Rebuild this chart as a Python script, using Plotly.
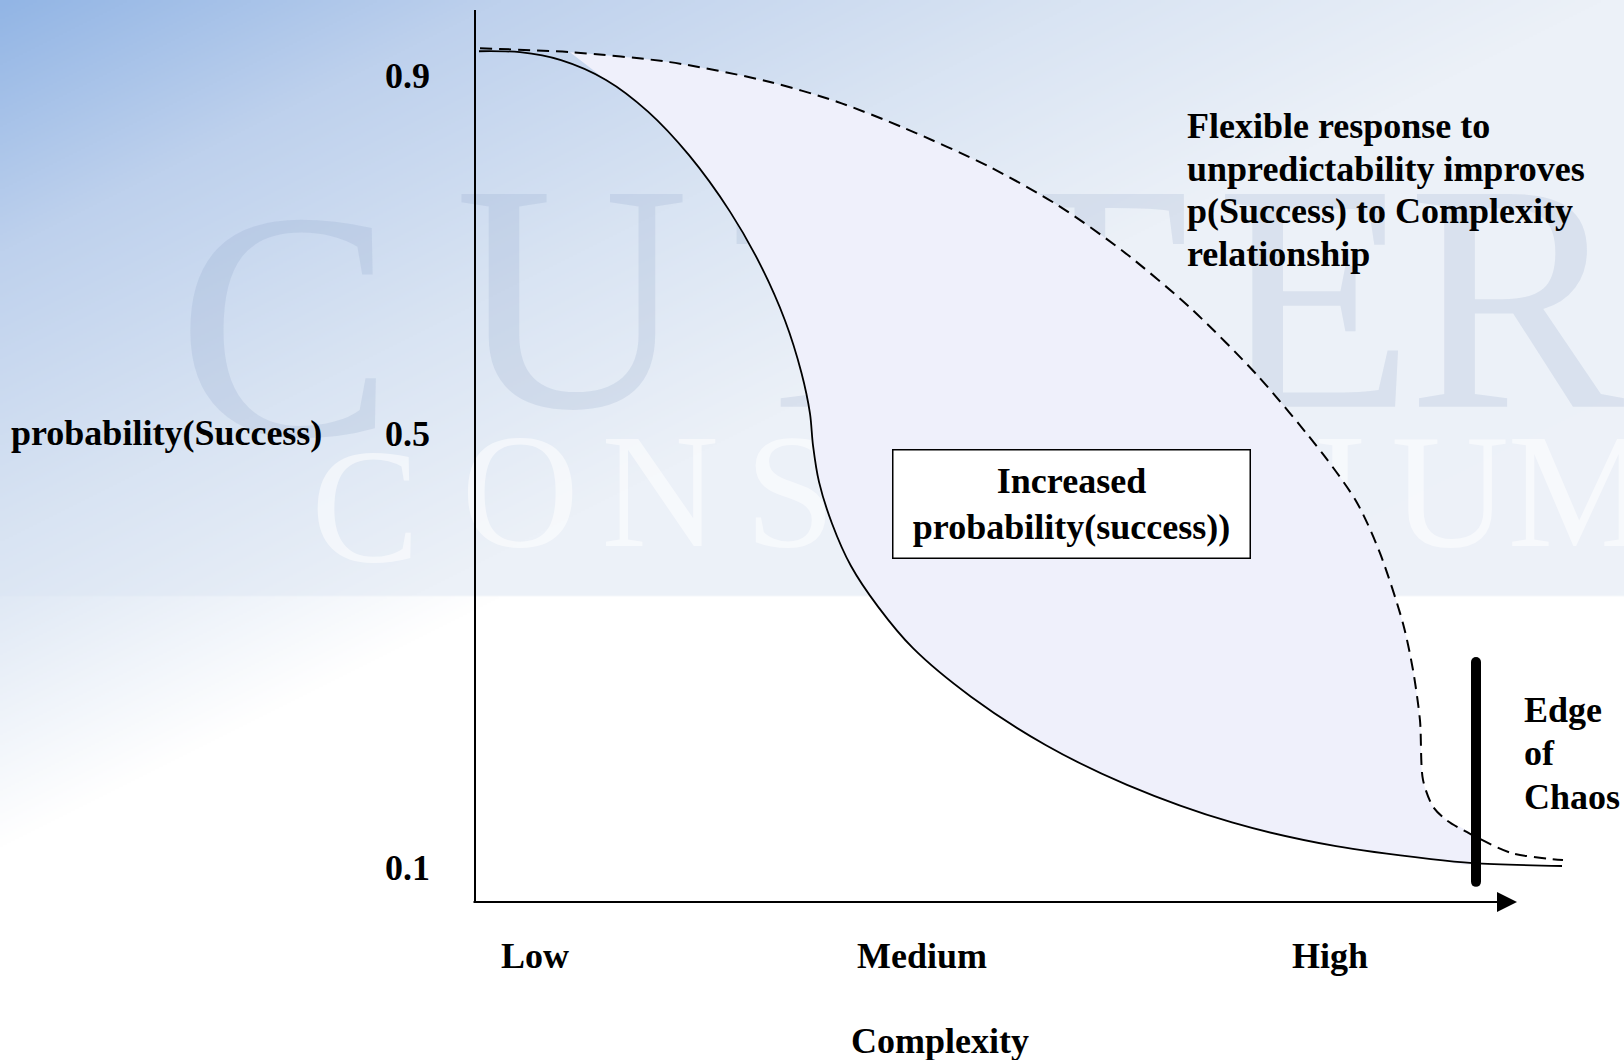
import base64, struct, zlib
import numpy as np
import plotly.graph_objects as go

# ---------------- data ----------------
complexity_rigid = [0.03, 0.44, 0.85, 1.30, 1.72, 2.13, 2.54, 2.84, 3.09, 3.255, 3.34, 3.37, 3.43,
                    3.56, 3.75, 4.02, 4.37, 4.95, 5.70, 6.51, 7.56, 8.60, 9.55, 9.97, 10.86]
p_rigid = [0.924, 0.923, 0.915, 0.895, 0.863, 0.819, 0.762, 0.709, 0.652, 0.599, 0.558, 0.526, 0.489,
           0.447, 0.404, 0.363, 0.321, 0.272, 0.223, 0.183, 0.145, 0.121, 0.108, 0.104, 0.101]

complexity_flexible = [0.04, 0.94, 1.94, 2.94, 3.61, 4.27, 5.14, 5.81, 6.47, 7.14, 7.81, 8.47,
                       8.81, 9.04, 9.27, 9.37, 9.44, 9.47, 9.57, 9.71, 9.95, 10.36, 10.87]
p_flexible = [0.927, 0.923, 0.913, 0.893, 0.873, 0.847, 0.807, 0.769, 0.722, 0.665, 0.597, 0.517,
              0.468, 0.417, 0.346, 0.299, 0.248, 0.188, 0.161, 0.147, 0.133, 0.114, 0.107]

x_tick_vals = [0.59, 4.46, 8.54]
x_tick_text = ["Low", "Medium", "High"]
y_tick_vals = [0.1, 0.538, 0.9]
y_tick_text = ["0.1", "0.5", "0.9"]

edge_of_chaos_x = [10.0, 10.0]
edge_of_chaos_y = [0.307, 0.085]

# background watermark (logo) letters
watermark_big = ["U", "T", "T", "E", "R"]
watermark_big_x = [0.96, 3.54, 6.14, 8.39, 10.40]
watermark_big_y = [0.647] * 5
watermark_small = list("ONSORTIUM")
watermark_small_x = [0.44, 1.84, 3.14, 4.64, 6.14, 7.54, 8.64, 9.74, 11.04]
watermark_small_y = [0.465] * 9

# ---------------- geometry helpers ----------------
W, H = 1624, 1060
ML, MR, MT, MB = 476, 0, 10, 158
PW, PH = W - ML - MR, H - MT - MB


def py2y(py):
    return 0.1 + (867 - py) / 990.0


def px2x(px):
    return (px - 476) / 100.0


x_range = [0, px2x(W)]
y_range = [py2y(902), py2y(10)]

# ---------------- background gradient image ----------------
def make_png(arr):
    h, w, _ = arr.shape
    raw = b"".join(b"\x00" + arr[i].tobytes() for i in range(h))

    def chunk(tag, data):
        return (struct.pack(">I", len(data)) + tag + data +
                struct.pack(">I", zlib.crc32(tag + data) & 0xFFFFFFFF))
    return (b"\x89PNG\r\n\x1a\n" +
            chunk(b"IHDR", struct.pack(">IIBBBBB", w, h, 8, 2, 0, 0, 0)) +
            chunk(b"IDAT", zlib.compress(raw, 9)) + chunk(b"IEND", b""))


S = 2
gw, gh = W // S, H // S
gx, gy = np.meshgrid(np.arange(gw) * S, np.arange(gh) * S)
d = gy + 0.5 * gx
stops_d = [0, 250, 540, 800, 2000]
upper = [np.interp(d, stops_d, [146, 190, 217, 236, 239]),
         np.interp(d, stops_d, [181, 209, 228, 241, 243]),
         np.interp(d, stops_d, [229, 237, 243, 248, 249])]
stops_l = [0, 250, 540, 845, 2000]
lower = [np.interp(d, stops_l, [146, 190, 217, 255, 255]),
         np.interp(d, stops_l, [181, 209, 228, 255, 255]),
         np.interp(d, stops_l, [229, 237, 243, 255, 255])]
mask = gy < 596
img = np.stack([np.where(mask, u, l) for u, l in zip(upper, lower)], axis=-1)
img = np.clip(img, 0, 255).astype(np.uint8)
bg_src = "data:image/png;base64," + base64.b64encode(make_png(img)).decode()

# ---------------- figure ----------------
FONT = "Liberation Serif, Times New Roman, serif"
WM_BIG = dict(family=FONT, size=325, color="rgba(120,145,185,0.16)")
WM_SMALL = dict(family=FONT, size=163, color="rgba(255,255,255,0.55)")
fig = go.Figure()

# watermark (drawn first so the fill covers it)
fig.add_trace(go.Scatter(
    x=watermark_big_x, y=watermark_big_y, mode="text", text=watermark_big,
    textfont=WM_BIG, cliponaxis=False, hoverinfo="skip", showlegend=False))
fig.add_trace(go.Scatter(
    x=watermark_small_x, y=watermark_small_y, mode="text", text=watermark_small,
    textfont=WM_SMALL, cliponaxis=False, hoverinfo="skip", showlegend=False))

# filled region between the two curves
fill_x = complexity_flexible[1:21] + complexity_rigid[23:2:-1]
fill_y = p_flexible[1:21] + p_rigid[23:2:-1]
fig.add_trace(go.Scatter(
    x=fill_x, y=fill_y, mode="lines", fill="toself", fillcolor="#EFF0FB",
    line=dict(width=0, color="rgba(0,0,0,0)", shape="spline", smoothing=0.9),
    hoverinfo="skip", showlegend=False))

# curves
fig.add_trace(go.Scatter(
    x=complexity_rigid, y=p_rigid, mode="lines",
    line=dict(color="black", width=1.8, shape="spline", smoothing=0.9),
    showlegend=False))
fig.add_trace(go.Scatter(
    x=complexity_flexible, y=p_flexible, mode="lines",
    line=dict(color="black", width=2, dash="12px,7px", shape="spline", smoothing=0.8),
    showlegend=False))

# edge of chaos bar
fig.add_trace(go.Scatter(
    x=edge_of_chaos_x, y=edge_of_chaos_y, mode="lines+markers",
    line=dict(color="black", width=10),
    marker=dict(color="black", size=10, symbol="circle"),
    showlegend=False))

bold = dict(family=FONT, size=36, color="black", weight="bold")

annotations = []
# watermark letters sitting left of the axis
annotations.append(dict(x=(285 - ML) / PW, y=0.647, xref="paper", yref="y",
                        xanchor="center", yanchor="middle", showarrow=False,
                        text="C", font=WM_BIG))
annotations.append(dict(x=(365 - ML) / PW, y=0.465, xref="paper", yref="y",
                        xanchor="center", yanchor="middle", showarrow=False,
                        text="C", font=WM_SMALL))

# x axis with arrow
annotations.append(dict(
    x=px2x(1517), y=py2y(902), ax=px2x(472), ay=py2y(902),
    xref="x", yref="y", axref="x", ayref="y", text="",
    showarrow=True, arrowhead=2, arrowsize=2, arrowwidth=2, arrowcolor="black",
    standoff=0))

# axis titles
annotations.append(dict(x=(324 - ML) / PW, y=py2y(433), xref="paper", yref="y",
                        xanchor="right", yanchor="middle", showarrow=False,
                        text="probability(Success)", font=bold))
annotations.append(dict(x=px2x(940), y=(902 - 1041) / PH, xref="x", yref="paper",
                        xanchor="center", yanchor="middle", showarrow=False,
                        text="Complexity", font=bold))

# flexible response note
flex_lines = ["Flexible response to", "unpredictability improves",
              "p(Success) to Complexity", "relationship"]
flex_py = [125.5, 168.5, 211, 253.5]
for t, p in zip(flex_lines, flex_py):
    annotations.append(dict(x=px2x(1185), y=py2y(p), xref="x", yref="y",
                            xanchor="left", yanchor="middle", showarrow=False,
                            text=t, font=bold))

# edge of chaos label
for t, p in zip(["Edge", "of", "Chaos"], [709.5, 753, 796.5]):
    annotations.append(dict(x=px2x(1522), y=py2y(p), xref="x", yref="y",
                            xanchor="left", yanchor="middle", showarrow=False,
                            text=t, font=bold))

# boxed label
annotations.append(dict(x=px2x(1071.5), y=py2y(503.5), xref="x", yref="y",
                        xanchor="center", yanchor="middle", showarrow=False,
                        text="Increased<br>probability(success))", font=bold,
                        width=356, height=107, align="center", valign="middle",
                        bgcolor="white", bordercolor="black", borderwidth=1.5, borderpad=0))

fig.update_layout(
    width=W, height=H,
    margin=dict(l=ML, r=MR, t=MT, b=MB, pad=0),
    paper_bgcolor="white", plot_bgcolor="rgba(0,0,0,0)",
    showlegend=False,
    annotations=annotations,
    images=[dict(source=bg_src, xref="paper", yref="paper",
                 x=-ML / PW, y=1 + MT / PH, sizex=W / PW, sizey=H / PH,
                 xanchor="left", yanchor="top", sizing="stretch", layer="below")],
    xaxis=dict(range=x_range, showgrid=False, zeroline=False, showline=False,
               tickmode="array", tickvals=x_tick_vals, ticktext=x_tick_text,
               ticks="outside", ticklen=22, tickcolor="rgba(0,0,0,0)",
               tickfont=bold, fixedrange=True),
    yaxis=dict(range=y_range, showgrid=False, zeroline=False, showline=True,
               linecolor="black", linewidth=1.5,
               tickmode="array", tickvals=y_tick_vals, ticktext=y_tick_text,
               ticks="outside", ticklen=37, tickcolor="rgba(0,0,0,0)",
               tickfont=bold, fixedrange=True),
)

fig.write_html("out.html",
               config={"displayModeBar": False},
               post_script="document.body.style.margin='0';"
                           "document.body.style.overflow='hidden';")
